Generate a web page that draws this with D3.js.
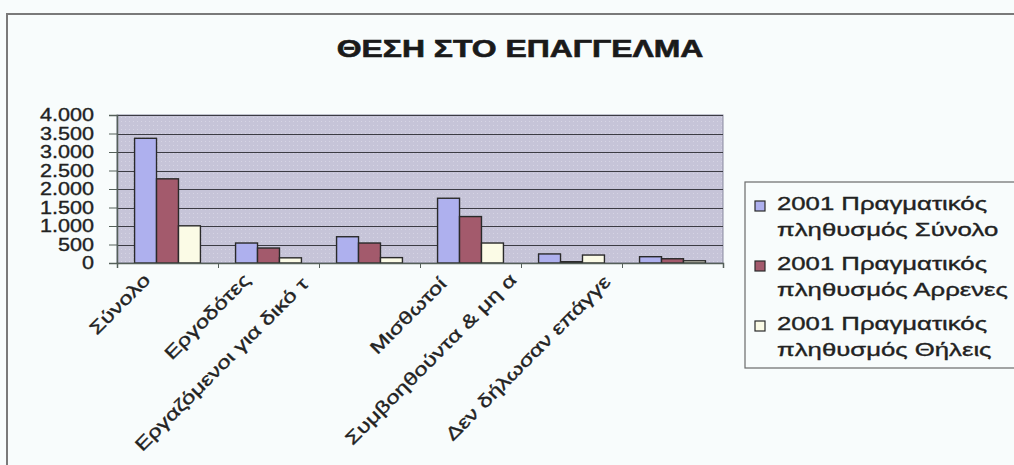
<!DOCTYPE html>
<html><head><meta charset="utf-8">
<script src="https://cdn.jsdelivr.net/npm/d3@7"></script>
<style>
html,body{margin:0;padding:0;background:#f8fcfc;}
svg{display:block;font-family:"Liberation Sans",Arial,sans-serif;}
</style></head>
<body>
<svg id="c" width="1014" height="465"></svg>
<script>
const title = "ΘΕΣΗ ΣΤΟ ΕΠΑΓΓΕΛΜΑ";
const categories = ["Σύνολο","Εργοδότες","Εργαζόμενοι για δικό τ","Μισθωτοί","Συμβοηθούντα & μη α","Δεν δήλωσαν επάγγε"];
const seriesLegendLines = [["2001 Πραγματικός","πληθυσμός Σύνολο"],["2001 Πραγματικός","πληθυσμός Αρρενες"],["2001 Πραγματικός","πληθυσμός Θήλεις"]];
const totalValues = [3370, 540, 710, 1750, 245, 170];
const maleValues  = [2275, 405, 540, 1255, 35, 115];
const femaleValues= [1005, 140, 145, 540, 215, 60];
const yTicks = [0,500,1000,1500,2000,2500,3000,3500,4000];
const seriesColors = ["#aeb0ee","#a35a6c","#fbfbe6"];

const series = [totalValues, maleValues, femaleValues];
const svg = d3.select("#c");
const W = 1014, H = 465;
const plot = {x0:117, x1:723, y0:115, y1:263};
const SX = 1.33;   // horizontal stretch of the scanned text
const SXL = 1.43;  // legend text stretch

svg.append("line").attr("x1",7).attr("x2",7).attr("y1",14).attr("y2",H).attr("stroke","#7a7a7a").attr("stroke-width",2);
svg.append("line").attr("x1",6).attr("x2",W).attr("y1",14).attr("y2",14).attr("stroke","#7a7a7a").attr("stroke-width",2);

const x = d3.scaleBand().domain(categories).range([plot.x0, plot.x1]).padding(0);
const xs = d3.scaleBand().domain(d3.range(3)).range([0, x.bandwidth()]).paddingOuter(0.8).paddingInner(0);
const y = d3.scaleLinear().domain([0,4000]).range([plot.y1, plot.y0]);

const defs = svg.append("defs");
const pat = defs.append("pattern").attr("id","dots").attr("width",4).attr("height",4).attr("patternUnits","userSpaceOnUse");
pat.append("rect").attr("width",4).attr("height",4).attr("fill","#c6c4d8");
pat.append("rect").attr("x",1).attr("y",1).attr("width",1).attr("height",1).attr("fill","#d6d4e4");

svg.append("rect").attr("x",plot.x0).attr("y",plot.y0).attr("width",plot.x1-plot.x0).attr("height",plot.y1-plot.y0)
  .attr("fill","url(#dots)").attr("stroke","#8a8aa0").attr("stroke-width",1);

svg.append("g").selectAll("line").data(yTicks.filter(d=>d>0)).join("line")
  .attr("x1",plot.x0).attr("x2",plot.x1).attr("y1",d=>Math.round(y(d))+0.5).attr("y2",d=>Math.round(y(d))+0.5)
  .attr("stroke","#3c3c44").attr("stroke-width",1);

const g = svg.append("g");
series.forEach((vals, si) => {
  g.append("g").selectAll("rect").data(vals).join("rect")
    .attr("x",(d,i)=>x(categories[i]) + xs(si))
    .attr("y",d=>y(d))
    .attr("width",xs.bandwidth())
    .attr("height",d=>y(0)-y(d))
    .attr("fill",seriesColors[si])
    .attr("stroke","#2a2a2a").attr("stroke-width",1.4);
});

const yAxis = svg.append("g").attr("transform",`translate(${plot.x0},0)`)
  .call(d3.axisLeft(y).tickValues(yTicks).tickSize(8).tickPadding(15)
     .tickFormat(d=>d3.format(",")(d).replace(/,/g,".")));
yAxis.select(".domain").attr("stroke","#55605a").attr("stroke-width",1.5);
yAxis.selectAll(".tick line").attr("stroke","#55605a");
yAxis.selectAll("text").each(function(){
  const t = d3.select(this);
  const xx = +t.attr("x");
  t.attr("x",0).attr("transform",`translate(${xx},0) scale(1.2,1)`);
}).attr("font-size",18).attr("fill","#222").attr("stroke","#222").attr("stroke-width",0.35)
  .attr("font-family","Liberation Sans, Arial, sans-serif");

const xAxis = svg.append("g").attr("transform",`translate(0,${plot.y1})`)
  .call(d3.axisBottom(d3.scaleLinear().domain([0,6]).range([plot.x0,plot.x1])).ticks(6).tickSize(5).tickFormat(""));
xAxis.select(".domain").attr("stroke","#55605a").attr("stroke-width",1.5);
xAxis.selectAll(".tick line").attr("stroke","#55605a");

const labelNudgeX = [-16,-17,-60,-23,-54,-61];
const labelNudgeY = [18,18,22,22,18,20];
const catG = svg.append("g");
categories.forEach((c,i)=>{
  const cx = x(c) + x.bandwidth()/2 + labelNudgeX[i];
  const cy = plot.y1 + labelNudgeY[i];
  catG.append("text")
    .attr("transform",`translate(${cx},${cy}) rotate(-45) scale(${SX},1)`)
    .attr("text-anchor","end").attr("font-size",18).attr("fill","#222")
    .attr("stroke","#222").attr("stroke-width",0.35)
    .text(c);
});

svg.append("text").attr("transform",`translate(520,57) scale(${SX},1)`).attr("text-anchor","middle")
  .attr("font-size",24).attr("font-weight","bold").attr("fill","#1a1a1a")
  .attr("stroke","#1a1a1a").attr("stroke-width",0.6).text(title);

const lg = svg.append("g");
lg.append("rect").attr("x",745).attr("y",182).attr("width",300).attr("height",186)
  .attr("fill","none").attr("stroke","#6a6a6a").attr("stroke-width",1.2);
seriesLegendLines.forEach((lines, si)=>{
  const by = 210 + si*60;
  lg.append("rect").attr("x",755).attr("y",by-9).attr("width",10).attr("height",10)
    .attr("fill",seriesColors[si]).attr("stroke","#2a2a2a").attr("stroke-width",1.2);
  lines.forEach((t,li)=>{
    lg.append("text").attr("transform",`translate(777,${by+li*26}) scale(${SXL},1)`)
      .attr("font-size",18).attr("fill","#222").attr("stroke","#222").attr("stroke-width",0.35).text(t);
  });
});
</script>
</body></html>
